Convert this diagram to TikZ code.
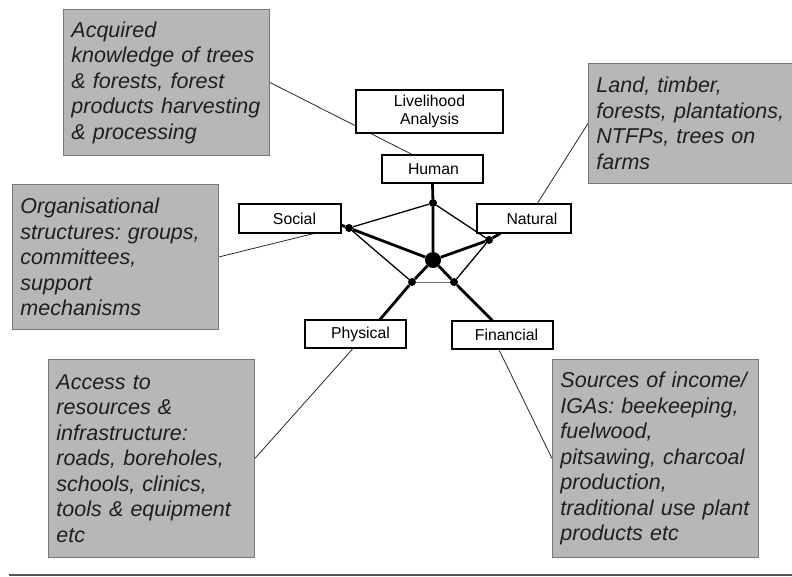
\documentclass[tikz,border=0pt]{standalone}
\usepackage{fontspec}
\setmainfont{Liberation Sans}
\usetikzlibrary{calc}
\frenchspacing
\pgfdeclarelayer{bg}
\pgfsetlayers{bg,main}
\definecolor{boxgrey}{RGB}{183,183,183}
\definecolor{boxedge}{RGB}{118,118,118}
\definecolor{rulegrey}{RGB}{85,85,85}
\definecolor{leadgrey}{RGB}{40,40,40}

\begin{document}
\begin{tikzpicture}[x=1pt,y=-1pt,
  capital/.style={draw=black, line width=1.1pt, fill=white, inner sep=0pt,
    font=\fontsize{15.8}{18}\selectfont, align=center},
  asset/.style={draw=boxedge, line width=0.9pt, fill=boxgrey, anchor=north west,
    inner xsep=8pt, inner ysep=0pt, align=left,
    font=\fontsize{21.5}{25.5}\selectfont\itshape, text=black!88},
  dot/.style={circle, fill=black, inner sep=0pt, minimum size=8pt},
  hubdot/.style={circle, fill=black, inner sep=0pt, minimum size=16pt},
  spoke/.style={line width=2.8pt},
  rim/.style={line width=1.3pt},
  baserim/.style={line width=1pt, draw=black!55},
  leader/.style={line width=0.8pt, draw=leadgrey},
  rulestyle/.style={line width=1.6pt, draw=rulegrey}]

\useasboundingbox (0,0) rectangle (792,576);

% the five capital assets around the title
\node[capital, minimum width=147pt, minimum height=43pt] (title) at (429.5,111.5) {Livelihood\\Analysis};
\node[capital, minimum width=101pt, minimum height=28pt] (human) at (432.5,169) {\hspace*{2pt}Human};
\node[capital, minimum width=102pt, minimum height=29pt] (social) at (290,218.5) {\hspace*{9pt}Social};
\node[capital, minimum width=94pt, minimum height=29pt] (natural) at (524,218.5) {\hspace*{16pt}Natural};
\node[capital, minimum width=101pt, minimum height=28pt] (physical) at (355.5,334) {\hspace*{10pt}Physical};
\node[capital, minimum width=101pt, minimum height=28pt] (financial) at (502.5,335) {\hspace*{8pt}Financial};

% pentagon hub and its corner dots
\node[hubdot] (hub) at (433,260) {};
\node[dot] (dH) at (433,203) {};
\node[dot] (dS) at (349,228) {};
\node[dot] (dN) at (489,240) {};
\node[dot] (dP) at (412,282) {};
\node[dot] (dF) at (454,282) {};

% descriptive boxes
\node[asset, text width=190pt, minimum height=146pt] (acq) at (63,9)
  {Acquired\\knowledge of trees\\\& forests, forest\\products harvesting\\\& processing};
\node[asset, text width=196pt, minimum height=120pt] (land) at (588,63)
  {Land, timber,\\forests, plantations,\\NTFPs, trees on\\farms};
\node[asset, text width=190pt, minimum height=145pt] (org) at (12,184)
  {Organisational\\structures: groups,\\committees,\\support\\mechanisms};
\node[asset, text width=190pt, minimum height=198pt] (access) at (48,359)
  {Access to\\resources \&\\infrastructure:\\roads, boreholes,\\schools, clinics,\\tools \& equipment\\etc};
\node[asset, text width=190pt, minimum height=198pt] (sources) at (552,359)
  {Sources of income/\\IGAs: beekeeping,\\fuelwood,\\pitsawing, charcoal\\production,\\traditional use plant\\products etc};

% thick spokes from the hub to each capital
\draw[spoke] (hub) -- (dH) -- (human.south);
\draw[spoke] (hub) -- (dS) -- ($(social.east)!0.45!(social.south east)$);
\draw[spoke] (hub) -- (dN) -- ($(natural.south west)!0.25!(natural.south east)$);
\draw[spoke] (hub) -- (dP) -- ($(physical.north west)!0.74!(physical.north east)$);
\draw[spoke] (hub) -- (dF) -- ($(financial.north west)!0.40!(financial.north east)$);

% pentagon rim
\draw[rim] (dH) -- (dS);
\draw[rim] (dH) -- (dN);
\draw[rim] (dS) -- (dP);
\draw[rim] (dN) -- (dF);
\draw[baserim] (dP) -- (dF);

% leader lines, kept behind the boxes
\begin{pgfonlayer}{bg}
\draw[leader] (acq.east) -- ($(human.north west)!0.3!(human.north east)$);
\draw[leader] (land.west) -- ($(natural.north west)!0.64!(natural.north east)$);
\draw[leader] (org.east) -- ($(social.south west)!0.73!(social.south east)$);
\draw[leader] (access.east) -- ($(physical.south west)!0.475!(physical.south east)$);
\draw[leader] (sources.west) -- ($(financial.south west)!0.465!(financial.south east)$);
\end{pgfonlayer}

% rule along the foot
\coordinate (ruleL) at (9,575);
\coordinate (ruleR) at (792,575);
\draw[rulestyle] (ruleL) -- (ruleR);
\end{tikzpicture}
\end{document}
